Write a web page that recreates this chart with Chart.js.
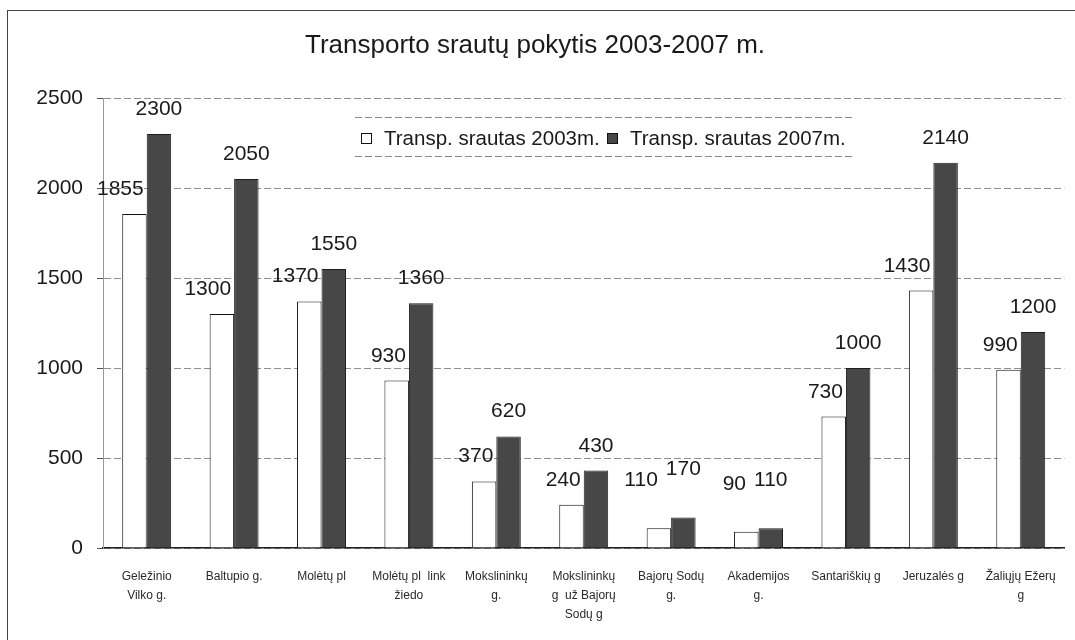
<!DOCTYPE html>
<html>
<head>
<meta charset="utf-8">
<script src="https://cdn.jsdelivr.net/npm/chart.js"></script>
<style>
  html, body { margin: 0; padding: 0; background: #fff; }
  #wrap { position: relative; width: 1075px; height: 640px; overflow: hidden; }
  #frame { position: absolute; left: 7px; top: 10px; width: 1100px; height: 700px;
           border-left: 1.5px solid #444; border-top: 1.5px solid #444; }
  canvas { position: absolute; left: 0; top: 0; }
</style>
</head>
<body>
<div id="wrap">
  <div id="frame"></div>
  <canvas id="srautai" width="1075" height="640"></canvas>
</div>
<script>
// gatvės (kategorijos)
var streets = [
  ["Geležinio", "Vilko g."],
  ["Baltupio g."],
  ["Molėtų pl"],
  ["Molėtų pl  link", "žiedo"],
  ["Mokslininkų", "g."],
  ["Mokslininkų", "g  už Bajorų", "Sodų g"],
  ["Bajorų Sodų", "g."],
  ["Akademijos", "g."],
  ["Santariškių g"],
  ["Jeruzalės g"],
  ["Žaliųjų Ežerų", "g"]
];
var flow2003 = [1855, 1300, 1370, 930, 370, 240, 110, 90, 730, 1430, 990];
var flow2007 = [2300, 2050, 1550, 1360, 620, 430, 170, 110, 1000, 2140, 1200];
var yTicks = [0, 500, 1000, 1500, 2000, 2500];

var FONT = "'Liberation Sans', Arial, sans-serif";

// vertes virš stulpelių (kaip Excel)
var valueLabels = {
  id: 'valueLabels',
  afterDatasetsDraw: function(chart) {
    var ctx = chart.ctx;
    var m0 = chart.getDatasetMeta(0).data;
    var m1 = chart.getDatasetMeta(1).data;
    ctx.save();
    ctx.font = "21px " + FONT;
    ctx.fillStyle = "#1a1a1a";
    ctx.textBaseline = "alphabetic";
    for (var i = 0; i < m0.length; i++) {
      var a = m0[i], b = m1[i];
      var va = flow2003[i], vb = flow2007[i];
      var ya = va < 200 ? a.y - 42 : a.y - 19;
      var yb = vb < 200 ? b.y - 42 : b.y - 19;
      // 2007 centre
      ctx.textAlign = "center";
      var sb = String(vb);
      ctx.fillText(sb, b.x, yb);
      var leftB = b.x - ctx.measureText(sb).width / 2;
      // 2003 right aligned, pushed left if it would collide
      var right = a.x + a.width / 2 - 3;
      if (Math.abs(ya - yb) < 22) right = Math.min(right, leftB - 8);
      ctx.textAlign = "right";
      ctx.fillText(String(va), right, ya);
    }
    ctx.restore();
  },
  afterDraw: function(chart) {
    // legenda diagramos viduje
    var ctx = chart.ctx;
    var ds = chart.data.datasets;
    ctx.save();
    ctx.strokeStyle = "#8a8a8a";
    ctx.lineWidth = 1;
    ctx.setLineDash([7, 3]);
    ctx.beginPath();
    ctx.moveTo(355, 117.5); ctx.lineTo(852, 117.5);
    ctx.moveTo(355, 156.5); ctx.lineTo(852, 156.5);
    ctx.stroke();
    ctx.setLineDash([]);
    ctx.font = "20.5px " + FONT;
    ctx.textBaseline = "middle";
    ctx.textAlign = "left";
    var xs = [361, 607];
    for (var k = 0; k < ds.length; k++) {
      ctx.fillStyle = ds[k].backgroundColor;
      ctx.fillRect(xs[k] + 0.5, 133.5, 10, 10);
      ctx.strokeStyle = "#111";
      ctx.strokeRect(xs[k] + 0.5, 133.5, 10, 10);
      ctx.fillStyle = "#1a1a1a";
      ctx.fillText(ds[k].label, xs[k] + 23, 139);
    }
    ctx.restore();
  }
};

var ctx = document.getElementById('srautai').getContext('2d');
var chart = new Chart(ctx, {
  type: 'bar',
  data: {
    labels: streets,
    datasets: [{
      label: "Transp. srautas 2003m.",
      data: flow2003,
      backgroundColor: '#ffffff',
      borderColor: '#111111',
      borderWidth: 1,
      categoryPercentage: 0.56,
      barPercentage: 1.0
    }, {
      label: "Transp. srautas 2007m.",
      data: flow2007,
      backgroundColor: '#474747',
      borderColor: '#1e1e1e',
      borderWidth: 1,
      categoryPercentage: 0.56,
      barPercentage: 1.0
    }]
  },
  plugins: [valueLabels],
  options: {
    responsive: false,
    animation: false,
    layout: { padding: { left: 0, right: 5, top: 0, bottom: 0 } },
    plugins: {
      legend: { display: false },
      tooltip: { enabled: false },
      title: {
        display: true,
        text: "Transporto srautų pokytis 2003-2007 m.",
        color: '#1a1a1a',
        font: { family: "'Liberation Sans Narrow', 'Liberation Sans', Arial, sans-serif", size: 26, weight: 'normal', lineHeight: 1.2 },
        padding: { top: 30, bottom: 36.8 }
      }
    },
    scales: {
      x: {
        grid: { display: false, drawTicks: false },
        border: { display: true, color: '#222', width: 1.5 },
        ticks: {
          color: '#2a2a2a',
          font: { family: FONT, size: 12, lineHeight: 1.6 },
          padding: 19,
          maxRotation: 0,
          autoSkip: false
        },
        afterFit: function(s) { s.height = 92; }
      },
      y: {
        min: 0,
        max: 2500,
        afterBuildTicks: function(s) { s.ticks = yTicks.map(function(v) { return { value: v }; }); },
        grid: { color: '#8f8f8f', lineWidth: 1, tickLength: 6, tickColor: '#555' },
        border: { display: true, color: '#9a9a9a', width: 1, dash: [7, 3] },
        ticks: {
          color: '#1a1a1a',
          font: { family: FONT, size: 21 },
          padding: 14,
          callback: function(v) { return String(v); }
        },
        afterFit: function(s) { s.width = 103; }
      }
    }
  }
});
</script>
</body>
</html>
